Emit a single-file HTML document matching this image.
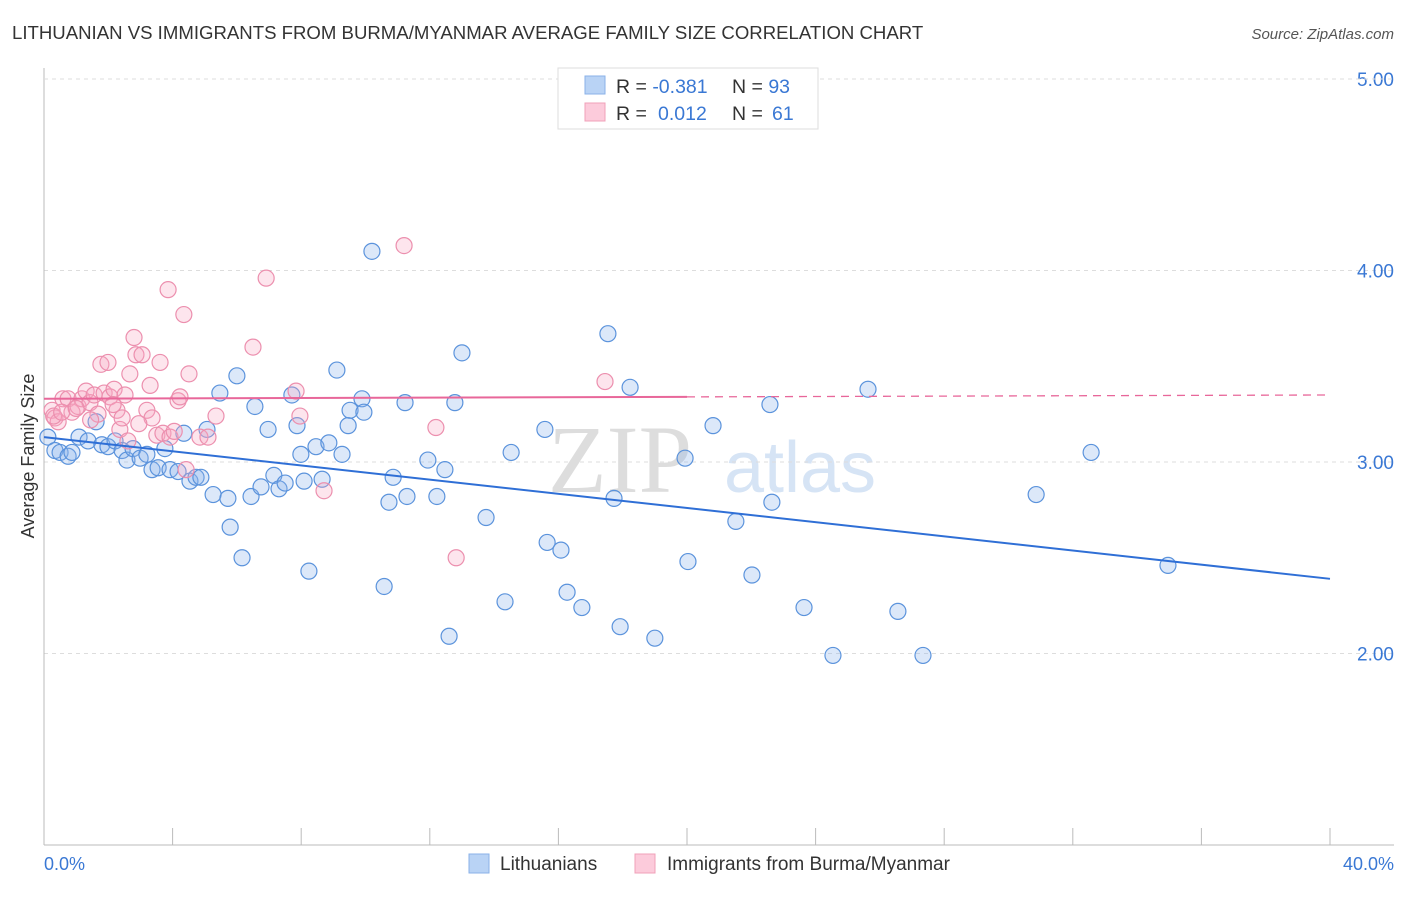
<!DOCTYPE html>
<html><head><meta charset="utf-8"><style>
body{margin:0;background:#fff;font-family:"Liberation Sans",sans-serif;}
</style></head><body>
<svg id="c" width="1406" height="892" xmlns="http://www.w3.org/2000/svg" style="font-family:'Liberation Sans',sans-serif">
<text x="12" y="39" font-size="18.6" fill="#333">LITHUANIAN VS IMMIGRANTS FROM BURMA/MYANMAR AVERAGE FAMILY SIZE CORRELATION CHART</text>
<text x="1394" y="39" font-size="15" fill="#555" font-style="italic" text-anchor="end">Source: ZipAtlas.com</text>
<text x="620" y="492" font-size="96" fill="#ddd" font-family="Liberation Serif" text-anchor="middle">ZIP</text>
<text x="800" y="492" font-size="72" fill="#d6e4f5" text-anchor="middle">atlas</text>
<g id="grid"></g><g id="pts"></g><g id="lines"></g>
<text transform="translate(34,456) rotate(-90)" font-size="18" fill="#333" text-anchor="middle">Average Family Size</text>
<text x="44" y="870" font-size="18" fill="#3a78d4">0.0%</text>
<text x="1394" y="870" font-size="18" fill="#3a78d4" text-anchor="end">40.0%</text>
<g>
<rect x="558" y="68" width="260" height="61" fill="#fff" stroke="#ddd"/>
<rect x="585" y="76" width="20" height="18" fill="#b9d3f5" stroke="#8ab1e8"/>
<rect x="585" y="103" width="20" height="18" fill="#fccbdb" stroke="#f0a0b8"/>
<text x="616" y="93" font-size="19.5" fill="#333">R = <tspan fill="#3a78d4">-0.381</tspan><tspan x="732">N = </tspan><tspan fill="#3a78d4">93</tspan></text>
<text x="616" y="120" font-size="19.5" fill="#333">R = <tspan x="658" fill="#3a78d4">0.012</tspan><tspan x="732">N = </tspan><tspan x="772" fill="#3a78d4">61</tspan></text>
</g>
<g>
<rect x="469" y="854" width="20" height="19" fill="#b9d3f5" stroke="#8ab1e8"/>
<text x="500" y="870" font-size="19" fill="#333">Lithuanians</text>
<rect x="635" y="854" width="20" height="19" fill="#fccbdb" stroke="#f0a0b8"/>
<text x="667" y="870" font-size="19" fill="#333">Immigrants from Burma/Myanmar</text>
</g>
</svg>
<script>
const blueX=[0.12,0.34,0.50,0.75,0.87,1.09,1.37,1.62,1.80,1.99,2.21,2.43,2.58,2.77,2.99,3.20,3.36,3.55,3.76,3.92,4.17,4.35,4.54,4.73,4.88,5.07,5.26,5.47,5.72,5.79,6.00,6.16,6.44,6.56,6.75,6.97,7.15,7.31,7.50,7.71,7.87,7.99,8.09,8.24,8.46,8.65,8.86,9.11,9.27,9.46,9.52,9.89,9.95,10.20,10.58,10.73,10.86,11.23,11.29,11.94,12.22,12.47,12.60,12.78,13.00,13.75,14.34,14.53,15.58,15.65,16.08,16.27,16.73,17.54,17.73,17.92,18.23,19.00,19.94,20.03,20.81,21.52,22.02,22.58,22.64,23.64,24.54,25.63,26.56,27.34,30.86,32.57,34.96];
const blueY=[3.13,3.06,3.05,3.03,3.05,3.13,3.11,3.21,3.09,3.08,3.11,3.06,3.01,3.07,3.02,3.04,2.96,2.97,3.07,2.96,2.95,3.15,2.90,2.92,2.92,3.17,2.83,3.36,2.81,2.66,3.45,2.50,2.82,3.29,2.87,3.17,2.93,2.86,2.89,3.35,3.19,3.04,2.90,2.43,3.08,2.91,3.10,3.48,3.04,3.19,3.27,3.33,3.26,4.10,2.35,2.79,2.92,3.31,2.82,3.01,2.82,2.96,2.09,3.31,3.57,2.71,2.27,3.05,3.17,2.58,2.54,2.32,2.24,3.67,2.81,2.14,3.39,2.08,3.02,2.48,3.19,2.69,2.41,3.30,2.79,2.24,1.99,3.38,2.22,1.99,2.83,3.05,2.46];
const pinkX=[0.25,0.34,0.44,0.59,0.75,0.87,1.06,1.18,1.31,1.43,1.56,1.68,1.77,1.87,1.99,2.05,2.18,2.27,2.36,2.43,2.52,2.61,2.67,2.80,2.86,3.05,3.20,3.30,3.36,3.51,3.61,3.70,3.86,3.92,4.17,4.23,4.35,4.42,4.51,4.85,5.10,5.35,6.50,6.91,7.84,7.96,8.71,11.20,12.19,12.82,17.45,0.30,0.55,1.00,1.45,2.15,2.95,4.05];
const pinkY=[3.27,3.23,3.21,3.33,3.33,3.26,3.29,3.33,3.37,3.31,3.35,3.25,3.51,3.36,3.52,3.34,3.38,3.27,3.17,3.23,3.35,3.11,3.46,3.65,3.56,3.56,3.27,3.40,3.23,3.14,3.52,3.15,3.90,3.13,3.32,3.34,3.77,2.96,3.46,3.13,3.13,3.24,3.60,3.96,3.37,3.24,2.85,4.13,3.18,2.50,3.42,3.24,3.26,3.28,3.22,3.30,3.20,3.16];
const yTicks=[2,3,4,5];
const yTickLabels=["2.00","3.00","4.00","5.00"];
const blueFit=[3.13,2.39];
const pinkFit=[3.33,3.35];
const sx=v=>44+v/40*1286;
const sy=v=>845-(v-1)*191.5;
const NS="http://www.w3.org/2000/svg";
function mk(p,t,a){const e=document.createElementNS(NS,t);for(const k in a)e.setAttribute(k,a[k]);p.appendChild(e);return e;}
const g=document.getElementById('grid');
yTicks.forEach((t,i)=>{
 const l=mk(g,'line',{x1:44,x2:1394,y1:sy(t),y2:sy(t),stroke:'#ddd','stroke-dasharray':'4,4'});
 
 
 const tx=mk(g,'text',{x:1394,y:sy(t)+7,'font-size':19,fill:'#3a78d4','text-anchor':'end'});
 tx.textContent=yTickLabels[i];
 
 
});
const ax=mk(g,'line',{x1:44,x2:1394,y1:845,y2:845,stroke:'#bbb'});


const ay=mk(g,'line',{x1:44,x2:44,y1:68,y2:845,stroke:'#bbb'});


for(let i=0;i<=10;i++){const t=mk(g,'line',{x1:sx(i*4),x2:sx(i*4),y1:828,y2:845,stroke:'#bbb'});
 
 }
const P=document.getElementById('pts');
blueX.forEach((x,i)=>{const c=mk(P,'circle',{cx:sx(x),cy:sy(blueY[i]),r:8,fill:'rgba(140,180,235,0.3)',stroke:'#5b93dc','stroke-width':1.2});
 
 });
pinkX.forEach((x,i)=>{const c=mk(P,'circle',{cx:sx(x),cy:sy(pinkY[i]),r:8,fill:'rgba(248,170,195,0.3)',stroke:'#ec8fae','stroke-width':1.2});
 
 });
const L=document.getElementById('lines');
const bl=mk(L,'line',{x1:sx(0),y1:sy(blueFit[0]),x2:sx(40),y2:sy(blueFit[1]),stroke:'#2f6fd6','stroke-width':2});


const pm=pinkFit[0]+(pinkFit[1]-pinkFit[0])*0.5;
const pl=mk(L,'line',{x1:sx(0),y1:sy(pinkFit[0]),x2:sx(20),y2:sy(pm),stroke:'#e8679a','stroke-width':2});


const pd=mk(L,'line',{x1:sx(20),y1:sy(pm),x2:sx(40),y2:sy(pinkFit[1]),stroke:'#e8679a','stroke-width':1.3,'stroke-dasharray':'8,6'});


const topGrid=mk(g,'line',{x1:44,x2:1394,y1:79,y2:79,stroke:'#ddd','stroke-dasharray':'4,4'});


</script>
</body></html>
